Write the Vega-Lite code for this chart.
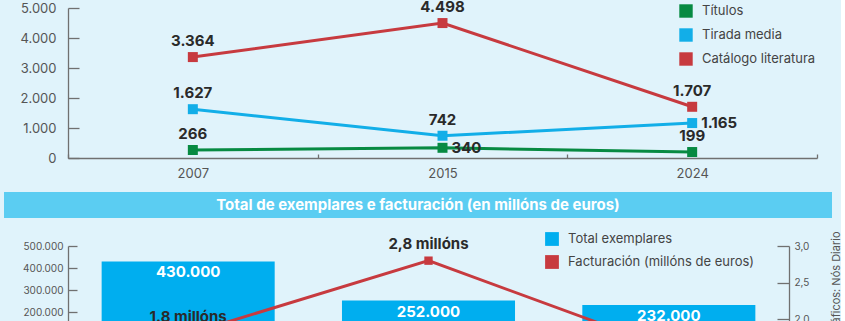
{
  "$schema": "https://vega.github.io/schema/vega-lite/v6.json",
  "background": "#e0f3fb",
  "padding": {"left": 4, "top": 0, "right": 0, "bottom": 0},
  "spacing": 12,
  "resolve": {"scale": {"color": "independent"}, "legend": {"color": "independent"}},
  "config": {
    "locale": {"number": {"decimal": ",", "thousands": ".", "grouping": [3], "currency": ["", " €"]}},
    "font": "Inter",
    "view": {"stroke": null},
    "axis": {"labelFont": "Inter", "labelColor": "#555555", "domainColor": "#707070", "tickColor": "#707070", "grid": false, "titleFont": "Inter", "domainWidth": 1.3, "tickWidth": 1.3},
    "legend": {"labelFont": "Inter", "labelLimit": 400}
  },
  "vconcat": [
    {
      "width": 749,
      "height": 150,
      "data": {"values": [
        {"year": "2007", "serie": "Títulos", "value": 266},
        {"year": "2015", "serie": "Títulos", "value": 340},
        {"year": "2024", "serie": "Títulos", "value": 199},
        {"year": "2007", "serie": "Tirada media", "value": 1627},
        {"year": "2015", "serie": "Tirada media", "value": 742},
        {"year": "2024", "serie": "Tirada media", "value": 1165},
        {"year": "2007", "serie": "Catálogo literatura", "value": 3364},
        {"year": "2015", "serie": "Catálogo literatura", "value": 4498},
        {"year": "2024", "serie": "Catálogo literatura", "value": 1707}
      ]},
      "encoding": {
        "x": {"field": "year", "type": "ordinal", "scale": {"paddingInner": 0, "paddingOuter": 0},
          "axis": {"title": null, "labelAngle": 0, "tickBand": "extent", "tickSize": -4, "labelPadding": 13, "labelFontSize": 13}},
        "y": {"field": "value", "type": "quantitative", "scale": {"domain": [0, 5000]},
          "axis": {"title": null, "values": [0, 1000, 2000, 3000, 4000, 5000], "format": ",d", "tickSize": -11, "labelPadding": 23, "labelFontSize": 13}},
        "color": {"field": "serie", "type": "nominal",
          "scale": {"domain": ["Títulos", "Tirada media", "Catálogo literatura"], "range": ["#078a42", "#12aee8", "#c73a3f"]},
          "legend": {"orient": "none", "legendX": 611, "legendY": -4, "title": null, "symbolType": "square", "symbolSize": 180, "symbolOpacity": 1, "symbolStrokeWidth": 0, "labelFontSize": 13, "labelColor": "#444444", "rowPadding": 10, "labelOffset": 9}}
      },
      "layer": [
        {"mark": {"type": "line", "strokeWidth": 3}},
        {"mark": {"type": "point", "shape": "square", "filled": true, "size": 100, "opacity": 1}},
        {"transform": [{"filter": "!((datum.serie == 'Títulos' && datum.year == '2015') || (datum.serie == 'Tirada media' && datum.year == '2024'))"}],
          "mark": {"type": "text", "dy": -16, "fontWeight": "bold", "fontSize": 15, "color": "#2a2a2a"},
          "encoding": {"text": {"field": "value", "type": "quantitative", "format": ",d"}, "color": {"value": "#2a2a2a"}}},
        {"transform": [{"filter": "(datum.serie == 'Títulos' && datum.year == '2015') || (datum.serie == 'Tirada media' && datum.year == '2024')"}],
          "mark": {"type": "text", "dx": 9, "align": "left", "fontWeight": "bold", "fontSize": 15, "color": "#2a2a2a"},
          "encoding": {"text": {"field": "value", "type": "quantitative", "format": ",d"}, "color": {"value": "#2a2a2a"}}}
      ]
    },
    {
      "width": 749,
      "height": 26,
      "data": {"values": [{"band": "b", "label": "Total de exemplares e facturación (en millóns de euros)"}]},
      "layer": [
        {"mark": {"type": "rect", "color": "#5bcdf2"},
          "encoding": {"x": {"field": "band", "type": "nominal", "scale": {"range": [-64, 764], "paddingInner": 0, "paddingOuter": 0}, "axis": null}}},
        {"mark": {"type": "text", "color": "white", "fontWeight": "bold", "fontSize": 15},
          "encoding": {"x": {"field": "band", "type": "nominal", "axis": null}, "text": {"field": "label"}}}
      ]
    },
    {
      "width": 721,
      "height": 110,
      "data": {"values": [
        {"year": "2007", "exemplares": 430000, "facturacion": 1.8, "fact_label": "1.8 millóns"},
        {"year": "2015", "exemplares": 252000, "facturacion": 2.8, "fact_label": "2,8 millóns"},
        {"year": "2024", "exemplares": 232000, "facturacion": 1.6, "fact_label": "1,6 millóns"}
      ]},
      "encoding": {
        "x": {"field": "year", "type": "ordinal", "scale": {"paddingInner": 0.28, "paddingOuter": 0.14},
          "axis": {"title": null, "labelAngle": 0, "tickBand": "extent", "tickSize": -4, "labelPadding": 13, "labelFontSize": 13}}
      },
      "layer": [
        {
          "encoding": {
            "y": {"field": "exemplares", "type": "quantitative", "scale": {"domain": [0, 500000]},
              "axis": {"orient": "left", "title": null, "values": [0, 100000, 200000, 300000, 400000, 500000], "format": ",d", "tickSize": -9, "labelPadding": 14, "labelFontSize": 10}}
          },
          "layer": [
            {"mark": {"type": "bar", "opacity": 1},
              "encoding": {"color": {"datum": "Total exemplares", "type": "nominal",
                "scale": {"domain": ["Total exemplares", "Facturación (millóns de euros)"], "range": ["#00aeef", "#c73a3f"]},
                "legend": {"orient": "none", "legendX": 477, "legendY": -14, "title": null, "symbolType": "square", "symbolSize": 190, "symbolOpacity": 1, "symbolStrokeWidth": 0, "labelFontSize": 13, "labelColor": "#444444", "rowPadding": 9, "labelOffset": 9, "labelLimit": 400}}}},
            {"mark": {"type": "text", "baseline": "middle", "dy": 11, "color": "white", "fontWeight": "bold", "fontSize": 15},
              "encoding": {"text": {"field": "exemplares", "type": "quantitative", "format": ",d"}}}
          ]
        },
        {
          "encoding": {
            "y": {"field": "facturacion", "type": "quantitative", "scale": {"domain": [1.5, 3.0], "zero": false},
              "axis": {"orient": "right", "title": "Gráficos: Nós Diario", "titleAngle": 270, "titleAlign": "right", "titleBaseline": "middle", "titleX": 47, "titleY": -15, "titleFontSize": 11, "titleFontWeight": "normal", "titleColor": "#555555",
                "values": [1.5, 2.0, 2.5, 3.0], "format": ".1f", "tickSize": -12, "labelPadding": 17, "labelFontSize": 10}}
          },
          "layer": [
            {"mark": {"type": "line", "strokeWidth": 3},
              "encoding": {"color": {"datum": "Facturación (millóns de euros)", "type": "nominal"}}},
            {"mark": {"type": "point", "shape": "square", "filled": true, "size": 70, "opacity": 1},
              "encoding": {"color": {"datum": "Facturación (millóns de euros)", "type": "nominal"}}},
            {"transform": [{"filter": "datum.year != '2024'"}],
              "mark": {"type": "text", "dy": -17, "fontWeight": "bold", "fontSize": 15, "color": "#2a2a2a"},
              "encoding": {"text": {"field": "fact_label"}}},
            {"transform": [{"filter": "datum.year == '2024'"}],
              "mark": {"type": "text", "dy": 20, "fontWeight": "bold", "fontSize": 15, "color": "#2a2a2a"},
              "encoding": {"text": {"field": "fact_label"}}}
          ]
        }
      ],
      "resolve": {"scale": {"y": "independent"}}
    }
  ]
}
